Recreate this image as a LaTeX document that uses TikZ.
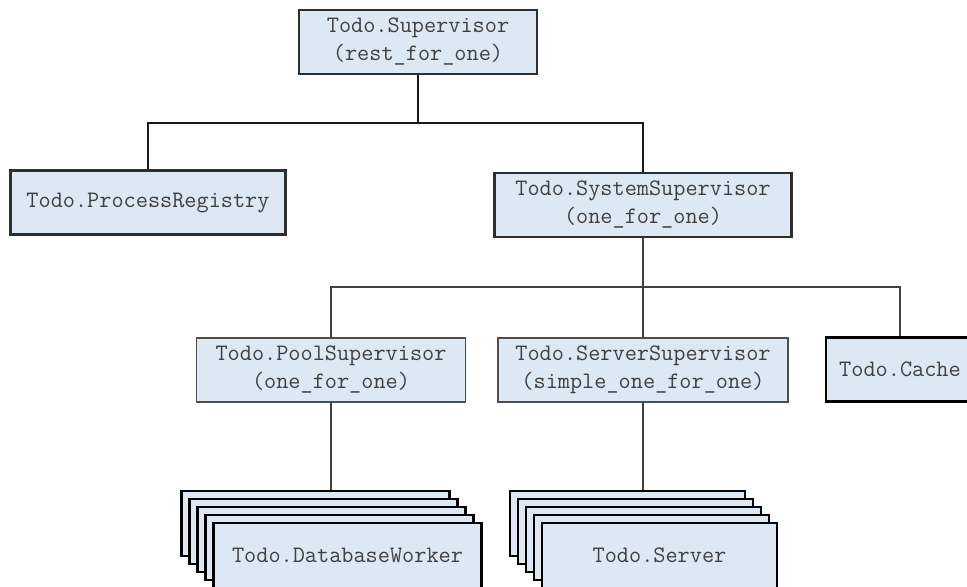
\documentclass[tikz,border=0pt]{standalone}
\usepackage{fontspec}
\usetikzlibrary{positioning}
\definecolor{boxfill}{HTML}{DCE8F4}
\definecolor{boxtext}{HTML}{404040}
\definecolor{boxline}{HTML}{2E2E2E}
\tikzset{
  sbox/.style={draw=boxline, line width=1.1pt, fill=boxfill, text=boxtext,
    font=\ttfamily\fontsize{11.8}{14}\selectfont, align=center,
    inner sep=0pt, minimum height=32pt},
  thinbox/.style={sbox, draw=boxline!85, line width=0.6pt},
  wbox/.style={sbox, draw=black, line width=1.1pt},
  treeline/.style={line width=1.2pt, draw=black!90},
  subline/.style={line width=0.6pt, draw=black!75},
}

\begin{document}
\begin{tikzpicture}[x=0.5pt,y=-0.5pt]
	\useasboundingbox (0,0) rectangle (967,587);
	%supervisors
	\node[sbox, minimum width=119pt] (sup) at (418,42) {Todo.Supervisor\\(rest\_for\_one)};
	\node[sbox, minimum width=137.5pt] (reg) at (148,202.5) {Todo.ProcessRegistry};
	\node[sbox, minimum width=148.5pt] (sys) at (643,205) {Todo.SystemSupervisor\\(one\_for\_one)};
	\node[thinbox, minimum width=134.5pt] (pool) at (331,370) {Todo.PoolSupervisor\\(one\_for\_one)};
	\node[thinbox, minimum width=145pt] (srv) at (643,370) {Todo.ServerSupervisor\\(simple\_one\_for\_one)};
	\node[wbox, minimum width=74pt] (cache) at (900,369.5) {Todo.Cache};
	%workers
	\foreach \i in {4,3,2,1} {
		\node[wbox, minimum width=134pt, minimum height=32.5pt] (dbw\i) at (347.5-8*\i,555.5-8*\i) {};
		\node[wbox, minimum width=117.5pt, minimum height=32.5pt] (wrk\i) at (659.5-8*\i,555.5-8*\i) {};
	}
	\node[wbox, minimum width=134pt, minimum height=32.5pt] (dbw) at (347.5,555.5) {Todo.DatabaseWorker};
	\node[wbox, minimum width=117.5pt, minimum height=32.5pt] (wrk) at (659.5,555.5) {Todo.Server};
	%lines
	\coordinate (j1) at (418,123);
	\coordinate (j2) at (643,287);
	\draw[treeline] (sup.south) -- (j1);
	\draw[treeline] (reg.north) |- (j1) -| (sys.north);
	\draw[subline] (sys.south) -- (j2) -- (srv.north);
	\draw[subline] (pool.north) |- (j2) -| (cache.north);
	\draw[subline] (pool.south) -- (pool.south |- dbw4.north);
	\draw[subline] (srv.south) -- (srv.south |- wrk4.north);
\end{tikzpicture}
\end{document}
